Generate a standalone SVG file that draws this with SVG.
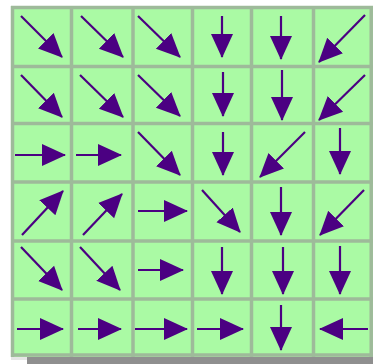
<svg xmlns="http://www.w3.org/2000/svg" width="373" height="364" viewBox="0 0 373 364">
<style>
.board{fill:#aafaa4}
.grid line{stroke:#9eba9a;stroke-width:3.5}
.arrows line{stroke:#4b0082;stroke-width:2.2;marker-end:url(#head)}
</style>
<defs>
<marker id="head" viewBox="0 0 24 24" refX="23" refY="12" markerWidth="24" markerHeight="24" markerUnits="userSpaceOnUse" orient="auto">
<path d="M0,1 L24,12 L0,23 Z" fill="#4b0082"/>
</marker>
</defs>
<rect x="0" y="0" width="373" height="364" fill="#ffffff"/>
<rect x="27" y="357" width="346" height="7" fill="#8f8f8f"/>
<rect x="11" y="357" width="16" height="3" fill="#e6e6e6"/>
<rect class="board" x="11" y="6" width="362" height="351"/>
<g class="grid">
<line x1="12.5" y1="6" x2="12.5" y2="357"/>
<line x1="71.5" y1="6" x2="71.5" y2="357"/>
<line x1="133" y1="6" x2="133" y2="357"/>
<line x1="192.5" y1="6" x2="192.5" y2="357"/>
<line x1="251.5" y1="6" x2="251.5" y2="357"/>
<line x1="313.5" y1="6" x2="313.5" y2="357"/>
<line x1="371.2" y1="6" x2="371.2" y2="357"/>
<line x1="11" y1="7.5" x2="373" y2="7.5"/>
<line x1="11" y1="66.5" x2="373" y2="66.5"/>
<line x1="11" y1="123.5" x2="373" y2="123.5"/>
<line x1="11" y1="182" x2="373" y2="182"/>
<line x1="11" y1="241" x2="373" y2="241"/>
<line x1="11" y1="299" x2="373" y2="299"/>
<line x1="11" y1="355" x2="373" y2="355"/>
</g>
<g class="arrows" id="connectors">
<g id="r1">
<line x1="21" y1="16" x2="62" y2="57"/>
<line x1="81" y1="16" x2="123" y2="57"/>
<line x1="138" y1="16" x2="180" y2="57"/>
<line x1="222" y1="16" x2="222" y2="57"/>
<line x1="281" y1="16" x2="281" y2="59"/>
<line x1="365" y1="15" x2="319" y2="62"/>
</g>
<g id="r2">
<line x1="21" y1="75" x2="62" y2="117"/>
<line x1="80" y1="75" x2="123" y2="117"/>
<line x1="138" y1="75" x2="180" y2="116"/>
<line x1="223" y1="72" x2="223" y2="116"/>
<line x1="282" y1="70" x2="282" y2="120"/>
<line x1="365" y1="75" x2="319" y2="120"/>
</g>
<g id="r3">
<line x1="15" y1="155" x2="65" y2="155"/>
<line x1="76" y1="155" x2="121" y2="155"/>
<line x1="138" y1="132" x2="180" y2="175"/>
<line x1="223" y1="132" x2="223" y2="175"/>
<line x1="305" y1="132" x2="260" y2="177"/>
<line x1="340" y1="128" x2="340" y2="174"/>
</g>
<g id="r4">
<line x1="22" y1="235" x2="63" y2="191"/>
<line x1="83" y1="235" x2="122" y2="194"/>
<line x1="138" y1="211" x2="187" y2="211"/>
<line x1="202" y1="190" x2="240" y2="232"/>
<line x1="281" y1="187" x2="281" y2="235"/>
<line x1="364" y1="190" x2="320" y2="235"/>
</g>
<g id="r5">
<line x1="21" y1="247" x2="62" y2="290"/>
<line x1="80" y1="247" x2="120" y2="290"/>
<line x1="138" y1="270" x2="183" y2="270"/>
<line x1="222" y1="247" x2="222" y2="294"/>
<line x1="283" y1="247" x2="283" y2="294"/>
<line x1="340" y1="246" x2="340" y2="294"/>
</g>
<g id="r6">
<line x1="17" y1="329" x2="63" y2="329"/>
<line x1="78" y1="329" x2="121" y2="329"/>
<line x1="135" y1="329" x2="187" y2="329"/>
<line x1="197" y1="329" x2="243" y2="329"/>
<line x1="281" y1="305" x2="281" y2="350"/>
<line x1="368" y1="329" x2="320" y2="329"/>
</g>
</g>
</svg>
